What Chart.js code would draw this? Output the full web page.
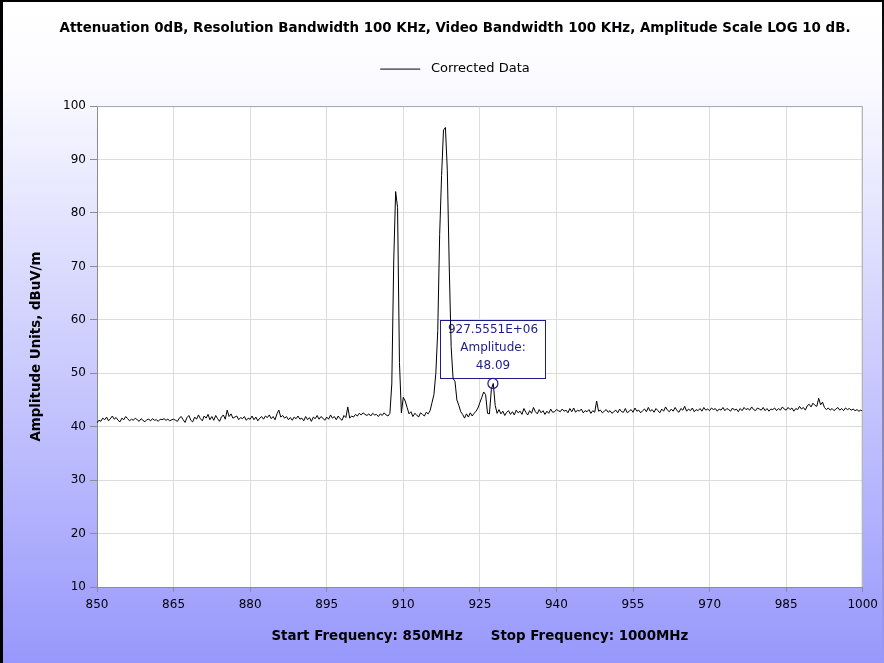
<!DOCTYPE html>
<html>
<head>
<meta charset="utf-8">
<script src="https://cdn.jsdelivr.net/npm/chart.js"></script>
<style>
  html, body { margin: 0; padding: 0; background: #fff; }
  #wrap { width: 884px; height: 663px; position: relative; }
</style>
</head>
<body>
<div id="wrap"><canvas id="spectrum" width="884" height="663"></canvas></div>
<script>
// sweep settings, 401 points from start to stop
const startFreq = 850;
const stopFreq = 1000;
const xTicks = [850, 865, 880, 895, 910, 925, 940, 955, 970, 985, 1000];
const yTicks = [10, 20, 30, 40, 50, 60, 70, 80, 90, 100];

// amplitude in dBuV/m (20 per row = 7.5 MHz)
const amplitude = [
  40.7, 41.2, 41.0, 41.6, 41.3, 41.8, 41.1, 41.5, 42.0, 41.4, 41.7, 41.2, 40.9, 41.6, 41.3, 41.9, 41.5, 41.1, 41.4, 41.2,
  41.6, 41.3, 41.0, 41.5, 41.2, 40.9, 41.3, 41.4, 41.1, 41.5, 41.2, 41.3, 41.0, 41.4, 41.3, 41.5, 41.2, 41.4, 41.1, 41.3,
  41.4, 41.2, 41.0, 41.6, 41.9, 41.3, 40.8, 41.7, 42.1, 41.2, 40.9, 41.8, 41.4, 42.2, 41.5, 41.1, 42.0, 41.6, 42.3, 41.3,
  41.9, 41.2, 42.1, 41.5, 41.0, 41.8, 42.2, 41.4, 43.1, 41.9, 42.4, 41.6, 41.8, 42.0, 41.3, 41.7, 41.5, 41.9, 41.2, 41.6,
  41.4, 42.0, 41.3, 41.8, 41.1, 41.6, 41.9, 41.4, 42.0, 41.7, 42.2, 41.5, 41.9, 41.3, 42.4, 43.1, 41.8, 42.1, 41.6, 41.9,
  41.3, 41.7, 41.2, 41.8, 41.5, 42.0, 41.4, 41.6, 41.1, 41.9, 41.3, 41.7, 41.0, 41.8, 41.5, 42.1, 41.4, 41.9, 41.6, 41.2,
  41.8, 41.4, 42.2, 41.6, 41.9, 41.3, 42.0, 41.5, 41.2, 42.1, 41.7, 43.7, 41.6, 42.0, 41.8, 42.3, 42.0, 42.5, 42.2, 42.6,
  42.3, 42.1, 42.4, 42.0, 42.5, 42.2, 42.3, 41.9, 42.4, 42.1, 42.6, 42.2, 42.0, 42.5, 48.0, 71.0, 84.0, 81.0, 52.0, 42.6,
  45.5, 44.8, 43.6, 42.4, 42.8, 41.9, 42.5, 42.2, 41.8, 42.6, 42.3, 42.0, 42.7, 42.4, 43.0, 44.5, 46.0, 50.0, 58.0, 76.0,
  87.0, 95.5, 96.0, 88.0, 70.0, 55.0, 49.0, 48.5, 45.0, 44.0, 42.8, 42.3, 41.6, 42.4, 41.8, 42.6, 42.0, 42.5, 42.9, 43.5,
  44.5, 45.5, 46.5, 46.0, 42.5, 42.4, 47.0, 48.09, 44.0, 42.5, 43.2, 42.4, 42.9, 42.1, 42.7, 43.0, 42.3, 42.8, 42.2, 43.1,
  42.6, 42.9, 42.3, 43.4, 42.7, 42.2, 43.0, 42.5, 43.6, 42.8, 42.4, 43.2, 42.6, 43.0, 42.3, 42.9, 42.5, 43.3, 42.7, 42.8,
  43.2, 43.0, 42.8, 43.3, 42.9, 43.1, 42.6, 43.4, 42.8, 43.5, 42.7, 43.1, 42.9, 43.3, 42.6, 43.0, 42.8, 43.2, 42.5, 43.0,
  42.7, 44.8, 42.9, 43.1, 42.6, 42.9, 43.2, 42.7, 43.0, 42.5, 42.8, 43.1, 42.6, 43.3, 42.8, 42.7, 43.4, 42.6, 42.9, 43.2,
  42.7, 43.5, 42.9, 43.1, 42.6, 43.0, 43.3, 42.8, 43.6, 42.9, 43.2, 42.7, 43.4, 43.0, 42.6, 43.3, 42.9, 43.7, 43.1, 42.8,
  43.3, 42.9, 43.6, 43.0, 42.7, 43.4, 43.1, 43.8, 42.9, 43.3, 43.0, 43.5, 42.8, 43.2, 43.0, 43.4, 42.9, 43.6, 43.1, 43.3,
  43.0, 43.5, 43.2, 43.4, 42.9, 43.3, 43.1, 43.6, 43.0, 43.4, 43.2, 42.9, 43.5, 43.1, 43.3, 42.8, 43.4, 43.0, 43.6, 43.2,
  43.4, 43.1, 43.7, 43.2, 43.0, 43.5, 43.3, 43.1, 43.6, 43.0, 43.4, 42.9, 43.3, 43.2, 43.5, 43.0, 43.4, 43.1, 43.7, 43.3,
  43.1, 43.6, 43.2, 43.5, 42.9, 43.4, 43.2, 43.8, 43.3, 43.6, 43.1, 43.9, 44.2, 43.7, 44.4, 44.0, 43.8, 45.3, 44.1, 44.6,
  43.6, 43.2, 43.5, 43.1, 43.4, 43.0, 43.3, 43.6, 43.1, 43.4, 43.0, 43.5, 43.2, 43.4, 43.1, 43.3, 43.0, 43.2, 42.9, 43.1,
  42.9
];

// marker shown on the trace
const markerFreq = 927.5551;
const markerAmp = 48.09;
const markerLines = ['927.5551E+06', 'Amplitude:', '48.09'];

const step = (stopFreq - startFreq) / (amplitude.length - 1);
const points = amplitude.map((v, i) => ({ x: startFreq + i * step, y: v }));

const navy = '#1c1c8a';
const fontFam = '"DejaVu Sans", Verdana, sans-serif';

const backdrop = {
  id: 'backdrop',
  beforeLayout(chart) {
    // leave room between the legend and the plot
    const lg = chart.legend;
    if (lg && !lg._padded) {
      const fit = lg.fit;
      lg.fit = function () { fit.call(this); this.height += 20.5; };
      lg._padded = true;
    }
  },
  beforeDraw(chart) {
    const { ctx, width, height, chartArea: a } = chart;
    ctx.save();
    const g = ctx.createLinearGradient(0, 0, 0, height);
    g.addColorStop(0, '#ffffff');
    g.addColorStop(0.12, '#fbfbff');
    g.addColorStop(1, '#9898fc');
    ctx.fillStyle = g;
    ctx.fillRect(0, 0, width, height);
    ctx.fillStyle = '#000';
    ctx.fillRect(0, 0, 3, height);
    ctx.fillRect(0, 0, width, 2);
    const rg = ctx.createLinearGradient(0, 0, 0, height);
    rg.addColorStop(0, 'rgba(0,0,0,1)');
    rg.addColorStop(0.5, 'rgba(0,0,0,0.4)');
    rg.addColorStop(1, 'rgba(0,0,0,0)');
    ctx.fillStyle = rg;
    ctx.fillRect(width - 2, 0, 2, height);
    ctx.fillStyle = '#fff';
    ctx.fillRect(a.left, a.top, a.right - a.left, a.bottom - a.top);
    ctx.restore();
  },
  afterDraw(chart) {
    const { ctx, chartArea: a } = chart;
    ctx.save();
    ctx.strokeStyle = '#a8a8a8';
    ctx.lineWidth = 1;
    ctx.beginPath();
    ctx.moveTo(a.left, a.top + 0.5);
    ctx.lineTo(a.right - 0.5, a.top + 0.5);
    ctx.lineTo(a.right - 0.5, a.bottom);
    ctx.stroke();
    ctx.restore();
  }
};

const marker = {
  id: 'marker',
  beforeDatasetsDraw(chart) {
    const { ctx, scales } = chart;
    const px = scales.x.getPixelForValue(markerFreq);
    const py = scales.y.getPixelForValue(markerAmp);
    const w = 105, h = 58;
    const bx = Math.round(px - w / 2) + 0.5;
    const by = Math.round(py - 5 - h) + 0.5;
    ctx.save();
    ctx.fillStyle = '#fff';
    ctx.fillRect(bx, by, w, h);
    ctx.strokeStyle = navy;
    ctx.lineWidth = 1;
    ctx.strokeRect(bx, by, w, h);
    ctx.fillStyle = navy;
    ctx.font = '12px ' + fontFam;
    ctx.textAlign = 'center';
    ctx.textBaseline = 'middle';
    markerLines.forEach((t, i) => ctx.fillText(t, bx + w / 2, by + 9.5 + i * 18));
    ctx.restore();
  },
  afterDatasetsDraw(chart) {
    const { ctx, scales } = chart;
    const px = scales.x.getPixelForValue(markerFreq);
    const py = scales.y.getPixelForValue(markerAmp);
    ctx.save();
    ctx.strokeStyle = navy;
    ctx.lineWidth = 1.2;
    ctx.beginPath();
    ctx.arc(px, py, 5, 0, Math.PI * 2);
    ctx.stroke();
    ctx.restore();
  }
};

new Chart(document.getElementById('spectrum'), {
  type: 'line',
  data: {
    datasets: [{
      label: 'Corrected Data',
      data: points,
      borderColor: '#000',
      backgroundColor: '#000',
      borderWidth: 1,
      pointRadius: 0,
      tension: 0
    }]
  },
  options: {
    responsive: false,
    animation: false,
    events: [],
    layout: { padding: { top: 0, right: 0, bottom: 0, left: 26 } },
    plugins: {
      title: {
        display: true,
        text: 'Attenuation 0dB, Resolution Bandwidth 100 KHz, Video Bandwidth 100 KHz, Amplitude Scale LOG 10 dB.',
        color: '#000',
        font: { family: fontFam, size: 13.4, weight: 'bold' },
        padding: { top: 20, bottom: 16.5 }
      },
      legend: {
        display: true,
        position: 'top',
        labels: {
          color: '#000',
          font: { family: fontFam, size: 13 },
          usePointStyle: true,
          pointStyle: 'line',
          pointStyleWidth: 40,
          padding: 10,
          generateLabels(chart) {
            const items = Chart.defaults.plugins.legend.labels.generateLabels(chart);
            items.forEach(it => { it.text = ' ' + it.text; });
            return items;
          }
        }
      },
      tooltip: { enabled: false }
    },
    scales: {
      x: {
        type: 'linear',
        min: startFreq,
        max: stopFreq,
        afterBuildTicks(s) { s.ticks = xTicks.map(v => ({ value: v })); },
        afterFit(s) { s.height = 76; },
        grid: { color: '#dcdcdc', tickColor: '#8c8c8c', tickLength: 5 },
        border: { color: '#8c8c8c' },
        ticks: {
          color: '#000',
          font: { family: fontFam, size: 12 },
          padding: 6,
          maxRotation: 0,
          callback: v => String(v)
        },
        title: {
          display: true,
          text: 'Start Frequency: 850MHz      Stop Frequency: 1000MHz',
          color: '#000',
          font: { family: fontFam, size: 13.4, weight: 'bold' },
          padding: { top: 0, bottom: 18 }
        }
      },
      y: {
        min: 10,
        max: 100,
        afterBuildTicks(s) { s.ticks = yTicks.map(v => ({ value: v })); },
        afterFit(s) { s.width = 71; },
        grid: { color: '#dcdcdc', tickColor: '#8c8c8c', tickLength: 7 },
        border: { color: '#8c8c8c' },
        ticks: { color: '#000', font: { family: fontFam, size: 12 }, padding: 4 },
        title: {
          display: true,
          text: 'Amplitude Units, dBuV/m',
          color: '#000',
          font: { family: fontFam, size: 13.4, weight: 'bold' },
          padding: { top: 2, bottom: 0 }
        }
      },
      // empty right-hand strip so the plot ends where the original does
      yRight: {
        position: 'right',
        display: true,
        afterFit(s) { s.width = 21; },
        grid: { display: false },
        border: { display: false },
        ticks: { display: false }
      }
    }
  },
  plugins: [backdrop, marker]
});
</script>
</body>
</html>
